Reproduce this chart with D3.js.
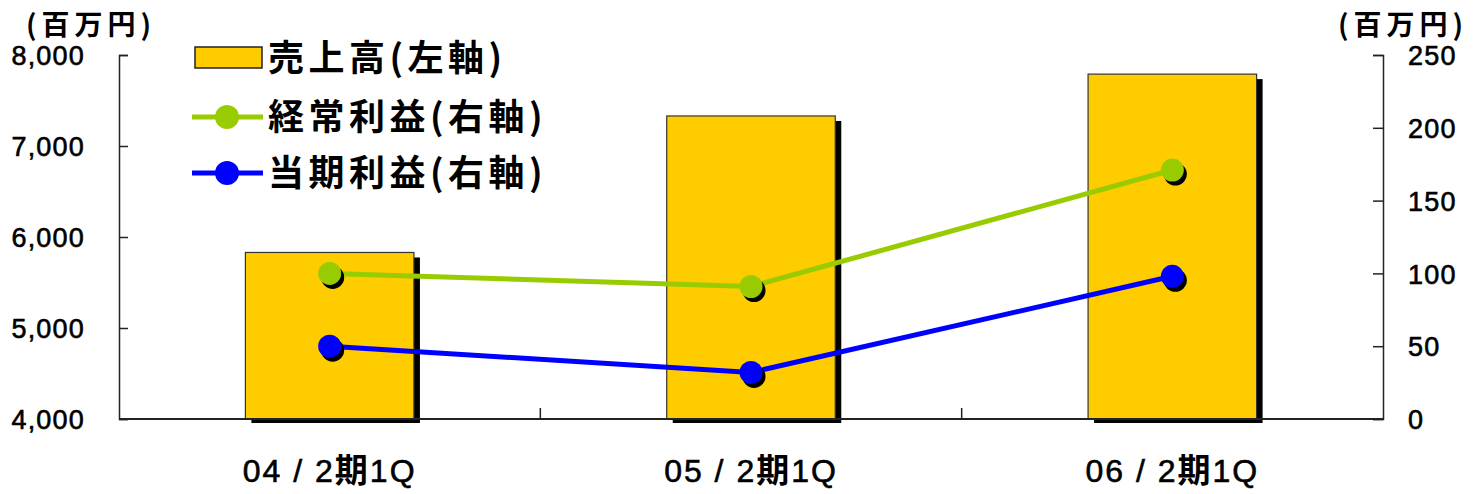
<!DOCTYPE html>
<html>
<head>
<meta charset="utf-8">
<script src="https://cdn.jsdelivr.net/npm/d3@7"></script>
<style>
  html, body { margin: 0; padding: 0; background: #fff; }
  svg { display: block; }
  text { font-family: "Liberation Sans", Arial, "Noto Sans CJK JP", sans-serif; fill: #000; }
  .jp { font-family: "Noto Sans CJK JP", sans-serif; font-weight: bold; }
  .heavy { stroke: #000; stroke-width: 0.6px; }
</style>
</head>
<body>
<svg id="chart" width="1474" height="494"></svg>
<script>
// Quarterly results (百万円)
const categories = ["04/2期1Q", "05/2期1Q", "06/2期1Q"];
const sales = [5830, 7330, 7790];          // 売上高 (left axis)
const ordinaryProfit = [100, 91, 171];    // 経常利益 (right axis)
const netProfit = [50, 32, 98];           // 当期利益 (right axis)
const leftTicks = [4000, 5000, 6000, 7000, 8000];
const rightTicks = [0, 50, 100, 150, 200, 250];
const seriesNames = ["売上高(左軸)", "経常利益(右軸)", "当期利益(右軸)"];

const svg = d3.select("#chart");
const margin = { left: 119, right: 1383, top: 55, bottom: 419 };

const x = d3.scaleBand().domain(categories).range([margin.left, margin.right])
  .paddingInner(0.6).paddingOuter(0.3);
const yL = d3.scaleLinear().domain([4000, 8000]).range([margin.bottom, margin.top]);
const yR = d3.scaleLinear().domain([0, 250]).range([margin.bottom, margin.top]);

const BAR = "#ffcc00", GREEN = "#99cc00", BLUE = "#0000ff";

// bars with drop shadow
const bars = svg.append("g");
bars.selectAll("rect.shadow").data(sales).join("rect")
  .attr("x", (d, i) => x(categories[i]) + 6)
  .attr("y", d => yL(d) + 5)
  .attr("width", x.bandwidth())
  .attr("height", d => yL(4000) - yL(d) - 1)
  .attr("fill", "#000");
bars.selectAll("rect.bar").data(sales).join("rect")
  .attr("x", (d, i) => x(categories[i]))
  .attr("y", d => yL(d))
  .attr("width", x.bandwidth())
  .attr("height", d => yL(4000) - yL(d))
  .attr("fill", BAR)
  .attr("stroke", "#333")
  .attr("stroke-width", 1.2);

// axes
const leftAxis = d3.axisLeft(yL).tickValues(leftTicks).tickSize(-9).tickPadding(34)
  .tickFormat(d3.format(","));
const gL = svg.append("g").attr("transform", `translate(${margin.left},0)`).call(leftAxis);
const rightAxis = d3.axisRight(yR).tickValues(rightTicks).tickSize(-10).tickPadding(25);
const gR = svg.append("g").attr("transform", `translate(${margin.right},0)`).call(rightAxis);
[gL, gR].forEach(g => {
  g.select(".domain").attr("stroke", "#222").attr("stroke-width", 1.5);
  g.selectAll(".tick line").attr("stroke", "#222").attr("stroke-width", 1.5);
  g.selectAll(".tick text").attr("font-size", 27).attr("font-family", "'Liberation Sans', Arial, sans-serif")
    .attr("letter-spacing", 1.2).attr("class", "heavy").attr("dy", "0.36em");
});

// category axis: boundary ticks pointing inward
const bottom = svg.append("g");
bottom.append("line").attr("x1", margin.left).attr("x2", margin.right)
  .attr("y1", margin.bottom).attr("y2", margin.bottom)
  .attr("stroke", "#222").attr("stroke-width", 2);
const step = x.step();
bottom.selectAll("line.sep").data(categories.slice(1)).join("line")
  .attr("x1", d => x(d) - x.paddingInner() * step / 2)
  .attr("x2", d => x(d) - x.paddingInner() * step / 2)
  .attr("y1", margin.bottom).attr("y2", margin.bottom - 11)
  .attr("stroke", "#222").attr("stroke-width", 1.5);
bottom.selectAll("text").data(categories).join("text")
  .attr("x", d => x(d) + x.bandwidth() / 2)
  .attr("y", 482)
  .attr("text-anchor", "middle")
  .attr("font-size", 32)
  .attr("letter-spacing", 2)
  .attr("class", "heavy")
  .each(function(d) {
    const t = d3.select(this);
    const parts = d.split("期");
    t.append("tspan").text(parts[0].replace("/", " / "));
    t.append("tspan").attr("class", "jp").attr("stroke-width", 0).attr("font-size", 33).text("期");
    t.append("tspan").text(parts[1]);
  });

// lines with shadowed markers
const lineGen = d3.line().x((d, i) => x(categories[i]) + x.bandwidth() / 2).y(d => yR(d));
[[ordinaryProfit, GREEN], [netProfit, BLUE]].forEach(([vals, col]) => {
  const g = svg.append("g");
  g.append("path").datum(vals).attr("d", lineGen)
    .attr("fill", "none").attr("stroke", col).attr("stroke-width", 5);
  g.selectAll("circle.sh").data(vals).join("circle")
    .attr("cx", (d, i) => x(categories[i]) + x.bandwidth() / 2 + 3)
    .attr("cy", d => yR(d) + 4).attr("r", 11.5).attr("fill", "#000");
  g.selectAll("circle.pt").data(vals).join("circle")
    .attr("cx", (d, i) => x(categories[i]) + x.bandwidth() / 2)
    .attr("cy", d => yR(d)).attr("r", 11.5).attr("fill", col);
});

// unit labels
[91, 1403].forEach(cx => {
  svg.append("text").attr("class", "jp").attr("x", cx).attr("y", 35)
    .attr("text-anchor", "middle").attr("font-size", 28).attr("letter-spacing", 5)
    .text("(百万円)");
});

// legend
const legend = svg.append("g");
legend.append("rect").attr("x", 195).attr("y", 47).attr("width", 67).attr("height", 21)
  .attr("fill", BAR).attr("stroke", "#222").attr("stroke-width", 1.5);
[[GREEN, 117], [BLUE, 173]].forEach(([col, yy]) => {
  legend.append("line").attr("x1", 192).attr("x2", 263).attr("y1", yy).attr("y2", yy)
    .attr("stroke", col).attr("stroke-width", 5);
  legend.append("circle").attr("cx", 227).attr("cy", yy).attr("r", 12).attr("fill", col);
});
legend.selectAll("text").data(seriesNames).join("text")
  .attr("class", "jp")
  .attr("x", 268)
  .attr("y", (d, i) => [58, 117, 173][i])
  .attr("dy", "0.36em")
  .attr("font-size", 36)
  .attr("letter-spacing", 4.5)
  .text(d => d);
</script>
</body>
</html>
